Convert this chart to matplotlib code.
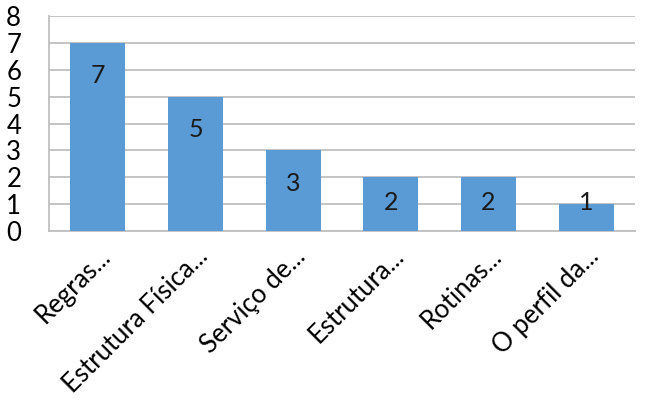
import numpy as np
import matplotlib.pyplot as plt
from matplotlib.transforms import ScaledTranslation

# dados do gráfico
categorias = ['Regras...', 'Estrutura Física...', 'Serviço de...',
              'Estrutura...', 'Rotinas...', 'O perfil da...']
valores = [7, 5, 3, 2, 2, 1]
yticks = list(range(0, 9))

plt.rcParams['font.family'] = ['Lato', 'DejaVu Sans']

fig = plt.figure(figsize=(6.56, 4.0), dpi=100)
ax = fig.add_axes([0.0747, 0.4225, 0.8933, 0.5375])

x = np.arange(len(categorias))
ax.bar(x, valores, width=0.56, color='#5B9BD5', zorder=3)

# rótulos de valor dentro das barras
for xi, v in zip(x, valores):
    ax.text(xi, max(v - 1.23, 1.05), str(v), ha='center', va='center',
            fontsize=18, color='#1a1a1a', zorder=4)

ax.set_xlim(-0.5, len(categorias) - 0.5)
ax.set_ylim(0, 8)
ax.set_yticks(yticks)
ax.set_yticklabels([str(t) for t in yticks], fontsize=18.5)
ax.set_xticks(x)
ax.set_xticklabels(categorias, rotation=45, ha='right',
                   rotation_mode='anchor', fontsize=18.5)
# desloca os rótulos do eixo x um pouco para a esquerda
desloc = ScaledTranslation(-0.12, 0.05, fig.dpi_scale_trans)
for lbl in ax.get_xticklabels():
    lbl.set_transform(lbl.get_transform() + desloc)
ax.tick_params(axis='y', length=0, pad=20)
ax.tick_params(axis='x', length=0, pad=9)

ax.grid(axis='y', color='#bfbfbf', linewidth=1.3, zorder=0)
for s in ['top', 'right']:
    ax.spines[s].set_visible(False)
for s in ['left', 'bottom']:
    ax.spines[s].set_color('#bfbfbf')
    ax.spines[s].set_linewidth(1.3)

plt.savefig('out.png', dpi=100)
